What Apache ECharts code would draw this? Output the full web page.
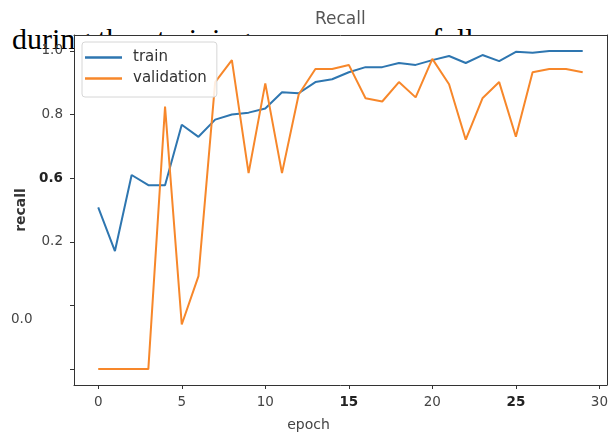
<!DOCTYPE html>
<html>
<head>
<meta charset="utf-8">
<script src="https://cdn.jsdelivr.net/npm/echarts@6/dist/echarts.min.js"></script>
<style>
html, body { margin: 0; padding: 0; background: #fff; }
#stage { position: relative; width: 611px; height: 437px; overflow: hidden; }
.under { position: absolute; font: 30px/30px "Liberation Serif"; color: #000; white-space: nowrap; z-index: 0; }
#plotbg { position: absolute; left: 74px; top: 35px; width: 533px; height: 350px; background: #fff; z-index: 1; }
#main { position: absolute; left: 0; top: 0; width: 611px; height: 437px; z-index: 2; }
</style>
</head>
<body>
<div id="stage">
    <!-- 背后文档里漏出来的正文，被绘图区盖住 -->
    <div class="under" style="left:12px; top:24px;">during the</div>
    <div class="under" style="left:157px; top:24px;">training process are as follows</div>
    <div id="plotbg"></div>
    <div id="main"></div>
</div>
<script>
// 数据
var epochs = [0, 1, 2, 3, 4, 5, 6, 7, 8, 9, 10, 11, 12, 13, 14, 15, 16, 17, 18, 19, 20, 21, 22, 23, 24, 25, 26, 27, 28, 29];
var trainRecall = [0.508, 0.371, 0.610, 0.578, 0.578, 0.768, 0.730, 0.784, 0.800, 0.806,
    0.819, 0.870, 0.867, 0.902, 0.911, 0.933, 0.949, 0.949, 0.962, 0.956,
    0.971, 0.984, 0.962, 0.987, 0.968, 0.997, 0.994, 1.0, 1.0, 1.0];
var valRecall = [0.0, 0.0, 0.0, 0.0, 0.825, 0.140, 0.292, 0.902, 0.971, 0.616,
    0.898, 0.616, 0.863, 0.943, 0.943, 0.956, 0.851, 0.841, 0.902, 0.854,
    0.975, 0.895, 0.721, 0.851, 0.902, 0.730, 0.933, 0.943, 0.943, 0.933];
var xTicks = [0, 5, 10, 15, 20, 25, 30];
var xTickLabels = ['0', '5', '10', '15', '20', '25', '30'];
var yTicks = [0, 0.2, 0.4, 0.6, 0.8, 1.0];
var yTickLabels = ['', '', '0.2', '0.6', '0.8', '1.0'];

// 看不清的刻度标签（原图里糊成深色块）
var blotted = ['0.6', '15', '25'];

function pairs(ys) {
    return epochs.map(function (e, i) { return [e, ys[i]]; });
}

function tickFormatter(ticks, labels) {
    return function (v) {
        for (var i = 0; i < ticks.length; i++) {
            if (Math.abs(ticks[i] - v) < 1e-6) {
                var s = labels[i];
                return blotted.indexOf(s) >= 0 ? '{dark|' + s + '}' : s;
            }
        }
        return '';
    };
}

var labelStyle = {
    fontFamily: 'DejaVu Sans',
    fontSize: 13.5,
    color: '#444',
    rich: { dark: { fontFamily: 'DejaVu Sans', fontSize: 13.5, fontWeight: 'bold', color: '#222' } }
};
var spine = { show: true, onZero: false, lineStyle: { color: '#333', width: 1 } };
var xRange = { min: -1.45, max: 30.45 };
var yRange = { min: -0.05, max: 1.05 };

var chart = echarts.init(document.getElementById('main'));
var option = {
    animation: false,
    backgroundColor: 'transparent',
    title: {
        text: 'Recall',
        left: 315,
        top: 11,
        padding: 0,
        textStyle: { fontFamily: 'DejaVu Sans', fontSize: 17, fontWeight: 'normal', color: '#555' }
    },
    grid: { left: 74, right: 4, top: 35, bottom: 52 },
    legend: {
        orient: 'vertical',
        left: 82,
        top: 42,
        icon: 'rect',
        itemWidth: 37,
        itemHeight: 2.5,
        itemGap: 4,
        padding: [7, 10, 10, 3],
        backgroundColor: 'rgba(255,255,255,0.85)',
        borderColor: '#d6d6d6',
        borderWidth: 1,
        borderRadius: 3,
        textStyle: { fontFamily: 'DejaVu Sans', fontSize: 15, lineHeight: 17, color: '#333', padding: [0, 0, 0, 6] },
        data: ['train', 'validation']
    },
    xAxis: [
        {
            type: 'value',
            min: xRange.min,
            max: xRange.max,
            name: 'epoch',
            nameLocation: 'middle',
            nameGap: 33,
            nameTextStyle: { fontFamily: 'DejaVu Sans', fontSize: 14, color: '#444', padding: [0, 64, 0, 0] },
            axisLine: spine,
            splitLine: { show: false },
            axisTick: { customValues: xTicks, length: 4, lineStyle: { color: '#333' } },
            axisLabel: Object.assign({ customValues: xTicks, margin: 10, formatter: tickFormatter(xTicks, xTickLabels) }, labelStyle)
        },
        {
            type: 'value', position: 'top', min: xRange.min, max: xRange.max,
            axisLine: spine, axisTick: { show: false }, axisLabel: { show: false }, splitLine: { show: false }
        }
    ],
    yAxis: [
        {
            type: 'value',
            min: yRange.min,
            max: yRange.max,
            name: 'recall',
            nameLocation: 'middle',
            nameGap: 45,
            nameTextStyle: { fontFamily: 'DejaVu Sans', fontSize: 14, fontWeight: 'bold', color: '#333' },
            axisLine: spine,
            splitLine: { show: false },
            axisTick: { customValues: yTicks, length: 4, lineStyle: { color: '#333' } },
            axisLabel: Object.assign({ customValues: yTicks, margin: 11, formatter: tickFormatter(yTicks, yTickLabels) }, labelStyle)
        },
        {
            type: 'value', position: 'right', min: yRange.min, max: yRange.max,
            axisLine: spine, axisTick: { show: false }, axisLabel: { show: false }, splitLine: { show: false }
        }
    ],
    graphic: [
        {
            type: 'text', left: 11, top: 312,
            style: { text: '0.0', font: '13.5px "DejaVu Sans"', fill: '#444' }
        }
    ],
    series: [
        {
            name: 'train',
            type: 'line',
            symbol: 'none',
            color: '#2e76b0',
            lineStyle: { width: 2 },
            data: pairs(trainRecall)
        },
        {
            name: 'validation',
            type: 'line',
            symbol: 'none',
            color: '#f7872a',
            lineStyle: { width: 2 },
            data: pairs(valRecall)
        }
    ]
};
chart.setOption(option);
</script>
</body>
</html>
